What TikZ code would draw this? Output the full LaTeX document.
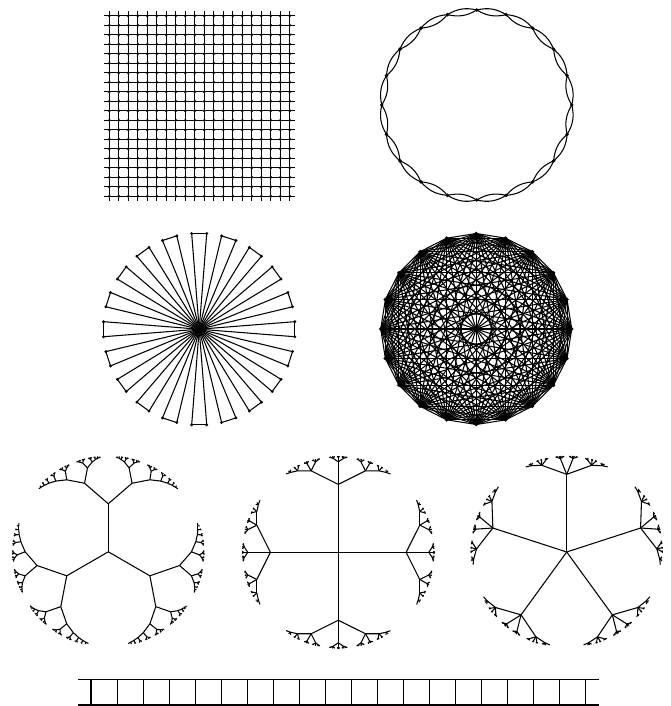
\documentclass[tikz,border=0pt]{standalone}
\usepackage{tikz}

\tikzset{
  dot/.style={circle, fill, inner sep=0pt, minimum size=2.2pt},
  smalldot/.style={circle, fill, inner sep=0pt, minimum size=1.8pt},
  edge/.style={line width=0.6pt},
}

% children of a tree vertex in the Poincare disk (frame a,b)
\newcommand\hypkids[7]{%
  \foreach \kid in {#7,...,\tqm}{%
    \pgfmathsetmacro\ure{cos(180*\kid/\tq+90)}%
    \pgfmathsetmacro\uim{sin(180*\kid/\tq+90)}%
    \pgfmathsetmacro\Are{(#3)*(\ure)-(#4)*(\uim)}%
    \pgfmathsetmacro\Aim{(#3)*(\uim)+(#4)*(\ure)}%
    \pgfmathsetmacro\Bre{(#5)*(\ure)+(#6)*(\uim)}%
    \pgfmathsetmacro\Bim{(#6)*(\ure)-(#5)*(\uim)}%
    \pgfmathsetmacro\nare{\tc*(\Are)-\ts*(\Bre)}%
    \pgfmathsetmacro\naim{\tc*(\Aim)-\ts*(\Bim)}%
    \pgfmathsetmacro\nbre{\tc*(\Bre)-\ts*(\Are)}%
    \pgfmathsetmacro\nbim{\tc*(\Bim)-\ts*(\Aim)}%
    \pgfmathsetmacro\nn{(\nare)*(\nare)+(\naim)*(\naim)}%
    \pgfmathsetmacro\zx{\tcx+\tR*(((\nbre)*(\nare)-(\nbim)*(\naim))/\nn)}%
    \pgfmathsetmacro\zy{\tcy-\tR*(((\nbre)*(\naim)+(\nbim)*(\nare))/\nn)}%
    \coordinate (#1-\kid) at (\zx,\zy);
    \draw[edge] (#1) -- (#1-\kid);
    \ifnum#2>1
      \edef\next{\noexpand\hypkids{#1-\kid}{\the\numexpr#2-1\relax}{\nare}{\naim}{\nbre}{\nbim}{1}}\next
    \fi
  }}

% name, degree, depth, first direction, centre x, centre y
\newcommand\hyptree[6]{%
  \def\tq{#2}\pgfmathtruncatemacro\tqm{#2-1}%
  \pgfmathsetmacro\tc{1/sin(180/#2)}%
  \pgfmathsetmacro\ts{cos(180/#2)/sin(180/#2)}%
  \def\tcx{#5}\def\tcy{#6}\def\tR{96}%
  \coordinate (#1) at (#5,#6);
  \pgfmathsetmacro\rre{cos(#4/2)}\pgfmathsetmacro\rim{sin(#4/2)}%
  \edef\next{\noexpand\hypkids{#1}{#3}{\rre}{\rim}{0}{0}{0}}\next
}

\begin{document}
\begin{tikzpicture}[x=0.02cm, y=-0.02cm, edge]
	\useasboundingbox (0,0) rectangle (671,706);

	% square grid
	\foreach \i in {0,...,19} {
		\coordinate (gn\i) at ({109.3+9.5*\i},10.8);
		\coordinate (gs\i) at ({109.3+9.5*\i},201.3);
		\coordinate (gw\i) at (104.3,{15.8+9.5*\i});
		\coordinate (ge\i) at (294.8,{15.8+9.5*\i});
		\draw (gn\i) -- (gs\i);
		\draw (gw\i) -- (ge\i);
		\foreach \j in {0,...,19}
			\node[smalldot] (g-\i-\j) at ({109.3+9.5*\i},{15.8+9.5*\j}) {};
	}

	% cycle with double edges
	\foreach \i in {0,...,19}
		\node[dot] (c\i) at ({476.8+95*cos(90+18*\i)},{105-95*sin(90+18*\i)}) {};
	\foreach \i in {0,...,19} {
		\pgfmathtruncatemacro\nxt{mod(\i+1,20)}
		\draw (c\i.center) to[bend left=22] (c\nxt.center);
		\draw (c\i.center) to[bend right=22] (c\nxt.center);
	}

	% windmill
	\coordinate (s) at (199.2,329.2);
	\foreach \i in {0,...,39}
		\node[smalldot] (s\i) at ({199.2+96*cos(9*\i-4.5)},{329.2-96*sin(9*\i-4.5)}) {};
	\foreach \i in {0,...,39}
		\draw (s) -- (s\i.center);
	\foreach \i in {0,2,...,38} {
		\pgfmathtruncatemacro\nxt{\i+1}
		\draw (s\i.center) -- (s\nxt.center);
	}

	% complete graph
	\foreach \i in {0,...,19}
		\node[dot] (k\i) at ({476.2+95.5*cos(90+18*\i)},{329-95.5*sin(90+18*\i)}) {};
	\foreach \i in {0,...,18} {
		\pgfmathtruncatemacro\nxt{\i+1}
		\foreach \j in {\nxt,...,19}
			\draw (k\i.center) -- (k\j.center);
	}

	% trees in the disk
	\hyptree{ta}{3}{8}{90}{108.3}{551.8}
	\hyptree{tb}{4}{5}{0}{338.3}{552.3}
	\hyptree{tc}{5}{4}{90}{566.7}{552}

	% ladder
	\coordinate (lw) at (78,679.7);
	\coordinate (le) at (598.7,679.7);
	\coordinate (bw) at (78,705);
	\coordinate (be) at (598.7,705);
	\draw (lw) -- (le);
	\draw (bw) -- (be);
	\foreach \i in {0,...,19} {
		\coordinate (lt\i) at ({91+26.03*\i},679.7);
		\coordinate (lb\i) at ({91+26.03*\i},705);
		\draw (lt\i) -- (lb\i);
	}
\end{tikzpicture}
\end{document}
